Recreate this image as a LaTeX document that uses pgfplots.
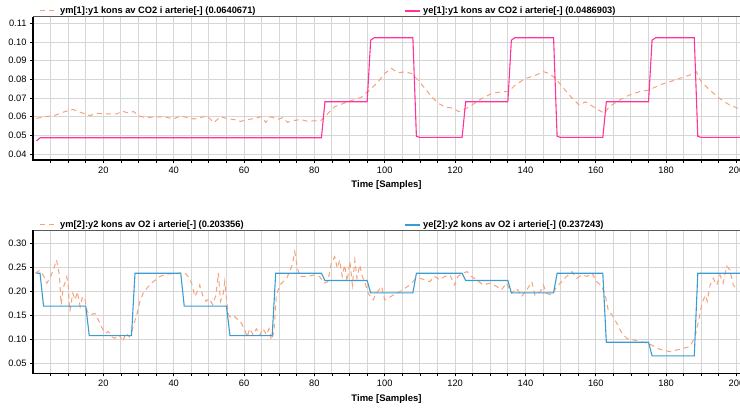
\documentclass[border=0pt]{standalone}
\usepackage{fontspec}
\setmainfont{Liberation Sans}
\usepackage{pgfplots}
\pgfplotsset{compat=1.18}

\definecolor{ymcol}{RGB}{250,160,120}
\definecolor{ye1col}{RGB}{255,51,153}
\definecolor{ye2col}{RGB}{60,155,210}
\definecolor{gridcol}{RGB}{214,214,214}

\pgfplotsset{myaxis/.style={
  scale only axis, width=707pt, height=143.3pt,
  xmin=0, xmax=201, clip=false,
  xtick={20,40,...,200}, minor xtick={5,10,...,200},
  grid=both,
  major grid style={gridcol, line width=1pt},
  minor grid style={gridcol, line width=1pt},
  tick align=outside, tick pos=left,
  major tick length=3pt, minor tick length=3pt,
  every tick/.style={black, line width=0.8pt},
  axis line style={draw=gray!70!black, line width=0.6pt},
  ticklabel style={font=\fontsize{9.3}{11}\selectfont},
  /pgf/number format/assume math mode=true,
  yticklabel style={/pgf/number format/.cd, fixed, fixed zerofill, precision=2},
  xlabel={Time [Samples]},
  xlabel style={font=\fontsize{9.5}{11}\selectfont\bfseries, at={(axis description cs:0.5,0)}, anchor=center, yshift=-25.5pt},
}}

\begin{document}
\begin{tikzpicture}
\useasboundingbox (0pt,0pt) rectangle (740pt,-409pt);

% ---------------- top panel ----------------
\begin{axis}[myaxis, at={(33pt,-160pt)}, anchor=south west,
  ymin=0.0368, ymax=0.1136, ytick={0.04,0.05,...,0.11}]
\addplot[ymcol, line width=1pt, dash pattern=on 5pt off 4pt] coordinates {
(1,0.0591) (3.5,0.0600) (6,0.0606) (9,0.0627) (11.4,0.0639) (13.3,0.0625) (16.2,0.0606) (18.1,0.0618)
(21,0.0615) (23.8,0.0615) (25.3,0.0630) (27.2,0.0620) (28.6,0.0628) (30,0.0605) (31.9,0.0595) (34.3,0.0598)
(37.1,0.0600) (40,0.0588) (41.9,0.0605) (43.8,0.0595) (45.7,0.0588) (47.6,0.0595) (49.5,0.0605) (51.4,0.0568)
(53.3,0.0600) (55.2,0.0590) (57.1,0.0585) (59,0.0575) (61,0.0585) (62.9,0.0590) (64.8,0.0600) (66.2,0.0570)
(67.6,0.0600) (69.5,0.0585) (71,0.0595) (72.4,0.0570) (74.3,0.0580) (76.2,0.0585) (78.1,0.0575) (80,0.0578)
(81.9,0.0580) (83,0.0600) (85.7,0.0653) (89.5,0.0680) (93.3,0.0704) (96.2,0.0752) (98,0.0785) (100,0.0832)
(101.9,0.0859) (103.8,0.0835) (105.7,0.0841) (107.6,0.0832) (109.5,0.0796) (111.4,0.0752) (113.3,0.0707) (115.3,0.0671)
(117.1,0.0653) (119.5,0.0645) (121,0.0627) (122.4,0.0636) (124.8,0.0662) (127.6,0.0698) (130.5,0.0725) (133.3,0.0734)
(135.2,0.0734) (137.1,0.0770) (140,0.0805) (142.9,0.0823) (145.2,0.0841) (146.7,0.0832) (148.6,0.0805) (150.5,0.0760)
(152.9,0.0707) (155.3,0.0662) (157.1,0.0680) (160,0.0645) (162.4,0.0618) (163.8,0.0653) (166.7,0.0689) (169.5,0.0716)
(172.4,0.0734) (175.2,0.0743) (178.1,0.0770) (181,0.0787) (183.8,0.0805) (186.7,0.0823) (188.6,0.0841) (190,0.0787)
(192.4,0.0743) (195.2,0.0698) (198.1,0.0662) (200.5,0.0645)
};
\addplot[ye1col, line width=1.1pt] coordinates {
(1,0.0470) (2,0.0487) (82,0.0487) (83,0.0680) (95,0.0680) (96,0.1010) (97,0.1023) (108,0.1023)
(109,0.0495) (110,0.0489) (122,0.0489) (123,0.0680) (135,0.0680) (136,0.1010) (137,0.1023) (148,0.1023)
(149,0.0495) (150,0.0489) (162,0.0489) (163,0.0680) (175,0.0680) (176,0.1010) (177,0.1023) (188,0.1023)
(189,0.0495) (190,0.0489) (201,0.0489)
};
\draw[black, line width=1.6pt] (rel axis cs:0,1) -- (rel axis cs:0,0) -- (rel axis cs:1,0);
\end{axis}

% ---------------- bottom panel ----------------
\begin{axis}[myaxis, at={(33pt,-373.3pt)}, anchor=south west,
  ymin=0.029, ymax=0.3277, ytick={0.05,0.10,...,0.30}]
\addplot[ymcol, line width=1pt, dash pattern=on 5pt off 4pt] coordinates {
(0.6,0.2375) (1.8,0.243) (2.9,0.234) (3.9,0.217) (4.8,0.227) (5.8,0.245) (6.7,0.265) (7.5,0.234)
(8,0.172) (8.6,0.207) (9.6,0.230) (10,0.213) (10.5,0.158) (11.3,0.196) (12,0.182) (12.6,0.199)
(13.4,0.168) (14.1,0.189) (14.8,0.182) (15.4,0.158) (16.4,0.151) (17.6,0.154) (18.6,0.140) (19.5,0.1255)
(20.5,0.1125) (21.4,0.116) (22.4,0.105) (23.3,0.102) (24.5,0.109) (25.5,0.095) (26.4,0.1125) (27.4,0.105)
(28.3,0.122) (29.5,0.151) (30.4,0.179) (31.3,0.196) (32.8,0.210) (34.2,0.220) (36.1,0.231) (38,0.236)
(39.9,0.236) (41.8,0.238) (43.2,0.238) (44.1,0.231) (45.1,0.217) (46,0.189) (47,0.203) (47.4,0.213)
(48.2,0.192) (49.2,0.179) (50.1,0.185) (51.1,0.172) (52,0.192) (52.7,0.238) (53.3,0.179) (54.1,0.196)
(54.5,0.220) (55.5,0.151) (56.4,0.144) (57.4,0.147) (58.3,0.140) (59.3,0.133) (60.2,0.120) (60.9,0.105)
(61.6,0.122) (62.6,0.109) (63.5,0.122) (64.5,0.109) (65.4,0.122) (66.4,0.109) (67.1,0.122) (67.8,0.0985)
(68.5,0.116) (69.2,0.192) (70.2,0.213) (71.1,0.220) (72.1,0.227) (73,0.241) (73.8,0.258) (74.4,0.2825)
(75.2,0.248) (75.8,0.231) (77.2,0.231) (78.6,0.232) (80,0.234) (81.4,0.231) (82.8,0.217) (83.8,0.220)
(84.8,0.258) (85.8,0.272) (86.5,0.248) (87.2,0.265) (87.9,0.231) (88.6,0.255) (89.3,0.220) (90.1,0.262)
(90.8,0.213) (91.5,0.265) (92.1,0.227) (92.9,0.255) (93.6,0.231) (94.3,0.220) (95.3,0.196) (95.7,0.192)
(96.7,0.182) (97.6,0.196) (99.1,0.210) (100,0.182) (100.9,0.185) (102.4,0.192) (104.3,0.199) (105.7,0.206)
(107.1,0.213) (108.5,0.224) (110,0.227) (111.4,0.224) (112.8,0.220) (114.2,0.231) (115.6,0.224) (117.1,0.231)
(118.5,0.234) (119.9,0.213) (120.8,0.231) (122.3,0.238) (123.4,0.241) (124.6,0.231) (126.1,0.224) (128,0.213)
(129.9,0.217) (131.8,0.210) (133.2,0.203) (134.6,0.217) (136.1,0.196) (137.5,0.206) (138.9,0.189) (140.4,0.203)
(141.8,0.220) (142.7,0.192) (144.2,0.199) (145.1,0.213) (146,0.196) (147.5,0.192) (148.9,0.210) (150.3,0.220)
(151.7,0.231) (153.2,0.241) (154.6,0.227) (156,0.234) (157.5,0.231) (158.9,0.238) (160.3,0.220) (161.7,0.210)
(162.7,0.192) (163.6,0.158) (164.6,0.151) (166,0.133) (167.4,0.1125) (168.8,0.102) (170.7,0.0985) (172.6,0.095)
(174.5,0.092) (175.9,0.088) (177.3,0.081) (179.2,0.0775) (181.1,0.074) (183,0.0775) (184.9,0.081) (186.8,0.085)
(188.2,0.105) (189.2,0.137) (190.1,0.172) (191.1,0.192) (191.7,0.179) (192.5,0.213) (193.4,0.227) (194.4,0.213)
(195.3,0.234) (196.2,0.217) (197.2,0.252) (198.1,0.245) (199.1,0.213) (200,0.206)
};
\addplot[ye2col, line width=1.1pt] coordinates {
(1,0.2375) (2,0.2375) (3,0.169) (15,0.169) (16,0.1075) (28,0.1075) (29,0.2375) (42,0.2375)
(43,0.169) (55,0.169) (56,0.1075) (68,0.1075) (69,0.2375) (82,0.2375) (83,0.2225) (95,0.2225)
(96,0.1965) (108,0.1965) (109,0.2375) (122,0.2375) (123,0.2225) (135,0.2225) (136,0.1965) (148,0.1965)
(149,0.2375) (162,0.2375) (163,0.0937) (175,0.0937) (176,0.0652) (188,0.0652) (189,0.2375) (201,0.2375)
};
\draw[black, line width=1.6pt] (rel axis cs:0,1) -- (rel axis cs:0,0) -- (rel axis cs:1,0);
\end{axis}

% ---------------- legends ----------------
\begin{scope}[every node/.style={font=\fontsize{9.3}{11}\selectfont\bfseries, inner sep=0pt, anchor=west}]
\draw[ymcol, line width=1pt, dash pattern=on 5pt off 4pt] (40pt,-11pt) -- (58pt,-11pt);
\node at (60pt,-11pt) {ym[1]:y1 kons av CO2 i arterie[-] (0.0640671)};
\draw[ye1col, line width=1.1pt] (405pt,-11pt) -- (420pt,-11pt);
\node at (423pt,-11pt) {ye[1]:y1 kons av CO2 i arterie[-] (0.0486903)};

\draw[ymcol, line width=1pt, dash pattern=on 5pt off 4pt] (40pt,-225pt) -- (58pt,-225pt);
\node at (60pt,-225pt) {ym[2]:y2 kons av O2 i arterie[-] (0.203356)};
\draw[ye2col, line width=1.1pt] (405pt,-225pt) -- (420pt,-225pt);
\node at (423pt,-225pt) {ye[2]:y2 kons av O2 i arterie[-] (0.237243)};
\end{scope}
\end{tikzpicture}
\end{document}
